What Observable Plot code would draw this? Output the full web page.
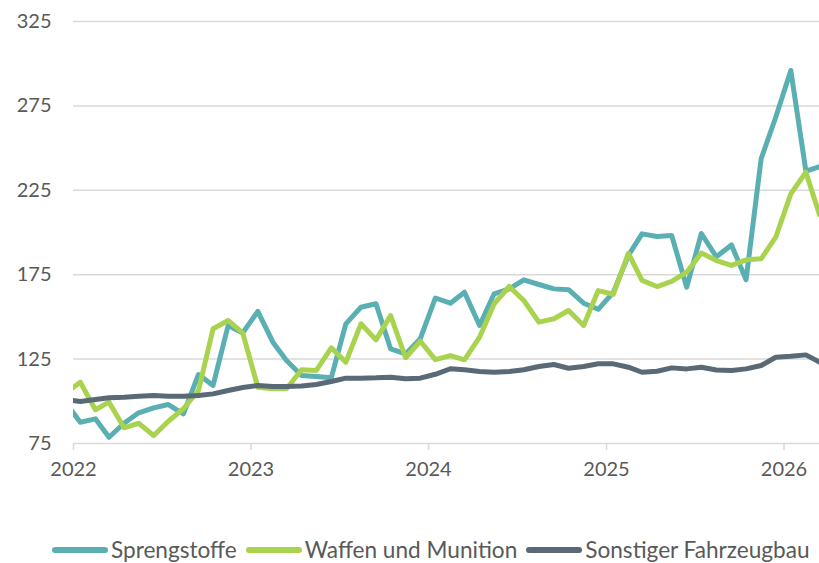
<!DOCTYPE html>
<html>
<head>
<meta charset="utf-8">
<script src="https://cdn.jsdelivr.net/npm/d3@7"></script>
<script src="https://cdn.jsdelivr.net/npm/@observablehq/plot@0.6"></script>
<style>
  html, body { margin: 0; padding: 0; background: #fff; }
  body { width: 819px; height: 563px; position: relative; overflow: hidden; font-family: Lato, "Open Sans", sans-serif; }
  #legend { position: absolute; left: 0; top: 536px; height: 28px; width: 819px; display: flex; align-items: center; padding-left: 52px; box-sizing: border-box; }
  .item { display: flex; align-items: center; margin-right: 9px; }
  .sw { width: 56px; height: 6px; border-radius: 3px; margin-right: 3px; }
  .lab { font-size: 22.6px; color: #595959; line-height: 28px; white-space: nowrap; }
</style>
</head>
<body>
<div id="chart"></div>
<div id="legend"></div>
<script>
const months = [
  "2021-12",
  "2022-01","2022-02","2022-03","2022-04","2022-05","2022-06","2022-07","2022-08","2022-09","2022-10","2022-11","2022-12",
  "2023-01","2023-02","2023-03","2023-04","2023-05","2023-06","2023-07","2023-08","2023-09","2023-10","2023-11","2023-12",
  "2024-01","2024-02","2024-03","2024-04","2024-05","2024-06","2024-07","2024-08","2024-09","2024-10","2024-11","2024-12",
  "2025-01","2025-02","2025-03","2025-04","2025-05","2025-06","2025-07","2025-08","2025-09","2025-10","2025-11","2025-12",
  "2026-01","2026-02","2026-03"
];
const sprengstoffe = [
  99.5,
  87.6, 89.6, 78.7, 87.0, 93.2, 96.1, 98.1, 92.6, 115.9, 109.4, 144.9, 140.5,
  153.3, 135.0, 124.2, 115.3, 114.7, 113.9, 145.9, 155.7, 157.8, 131.1, 128.1, 137.0,
  161.2, 158.1, 164.6, 144.9, 163.7, 166.6, 172.0, 169.2, 166.6, 166.1, 158.1, 154.5,
  164.5, 186.4, 199.2, 197.6, 198.2, 167.6, 199.4, 185.6, 192.6, 172.0, 243.7, 268.3,
  296.0, 236.3, 239.0
];
const waffen = [
  104.7,
  111.3, 95.0, 99.5, 84.3, 87.0, 79.7, 88.2, 95.6, 106.4, 143.0, 147.9, 140.5,
  108.3, 107.4, 107.4, 118.7, 118.2, 131.7, 123.2, 145.9, 136.4, 150.8, 125.8, 135.7,
  124.7, 127.1, 124.6, 138.0, 157.8, 168.0, 159.7, 146.9, 148.9, 153.8, 144.9, 165.6,
  163.4, 187.7, 171.6, 168.0, 171.0, 176.5, 187.8, 183.4, 180.5, 183.8, 184.4, 197.2,
  222.9, 235.7, 210.5
];
const fahrzeugbau = [
  101.1,
  99.9, 101.1, 102.1, 102.4, 103.0, 103.4, 103.0, 103.0, 103.4, 104.4, 106.4, 108.2,
  109.4, 108.8, 108.8, 109.0, 110.0, 111.7, 113.7, 113.7, 113.9, 114.3, 113.3, 113.7,
  116.0, 119.3, 118.7, 117.7, 117.2, 117.7, 118.7, 120.6, 121.8, 119.6, 120.6, 122.2,
  122.2, 120.2, 117.2, 117.8, 119.8, 119.2, 120.2, 118.5, 118.2, 119.2, 121.2, 126.1,
  126.7, 127.5, 123.2
];
const seriesNames = ["Sprengstoffe", "Waffen und Munition", "Sonstiger Fahrzeugbau"];
const seriesColors = ["#5AAFB3", "#A9D34E", "#596A76"];
const yTicks = [75, 125, 175, 225, 275, 325];
const xTickYears = [2022, 2023, 2024, 2025, 2026];

const toDate = m => { const [y, mo] = m.split("-").map(Number); return new Date(Date.UTC(y, mo - 1, 15)); };
const seriesValues = [sprengstoffe, waffen, fahrzeugbau];
const tables = seriesValues.map((vals, i) => months.map((m, j) => ({date: toDate(m), value: vals[j], series: seriesNames[i]})));
const xTicks = xTickYears.map(y => new Date(Date.UTC(y, 0, 1)));

const chart = Plot.plot({
  width: 819,
  height: 500,
  marginLeft: 73,
  marginRight: 0,
  marginTop: 21,
  marginBottom: 57,
  style: {fontFamily: "Lato, 'Open Sans', sans-serif", fontSize: "20px", color: "#595959", background: "white"},
  x: {type: "utc", domain: [new Date(Date.UTC(2022, 0, 1)), new Date(Date.UTC(2026, 2, 15))], label: null},
  y: {domain: [75, 325], label: null},
  marks: [
    Plot.gridY(yTicks, {stroke: "#d9d9d9", strokeOpacity: 1, strokeWidth: 1.5}),
    Plot.axisY(yTicks, {tickSize: 0, tickPadding: 22, fill: "#595959", fontSize: 20, label: null}),
    Plot.axisX(xTicks, {tickSize: 7, tickPadding: 11, stroke: "#d9d9d9", strokeWidth: 1.5, strokeOpacity: 1, fill: "#595959", fontSize: 20, tickFormat: d => String(d.getUTCFullYear()), label: null}),
    ...tables.map((t, i) => Plot.line(t, {x: "date", y: "value", stroke: seriesColors[i], strokeWidth: 5, strokeLinejoin: "round", strokeLinecap: "round", clip: true}))
  ]
});
document.getElementById("chart").appendChild(chart);

const legend = document.getElementById("legend");
seriesNames.forEach((name, i) => {
  const item = document.createElement("div");
  item.className = "item";
  const sw = document.createElement("span");
  sw.className = "sw";
  sw.style.background = seriesColors[i];
  const lab = document.createElement("span");
  lab.className = "lab";
  lab.textContent = name;
  item.appendChild(sw);
  item.appendChild(lab);
  legend.appendChild(item);
});
</script>
</body>
</html>
